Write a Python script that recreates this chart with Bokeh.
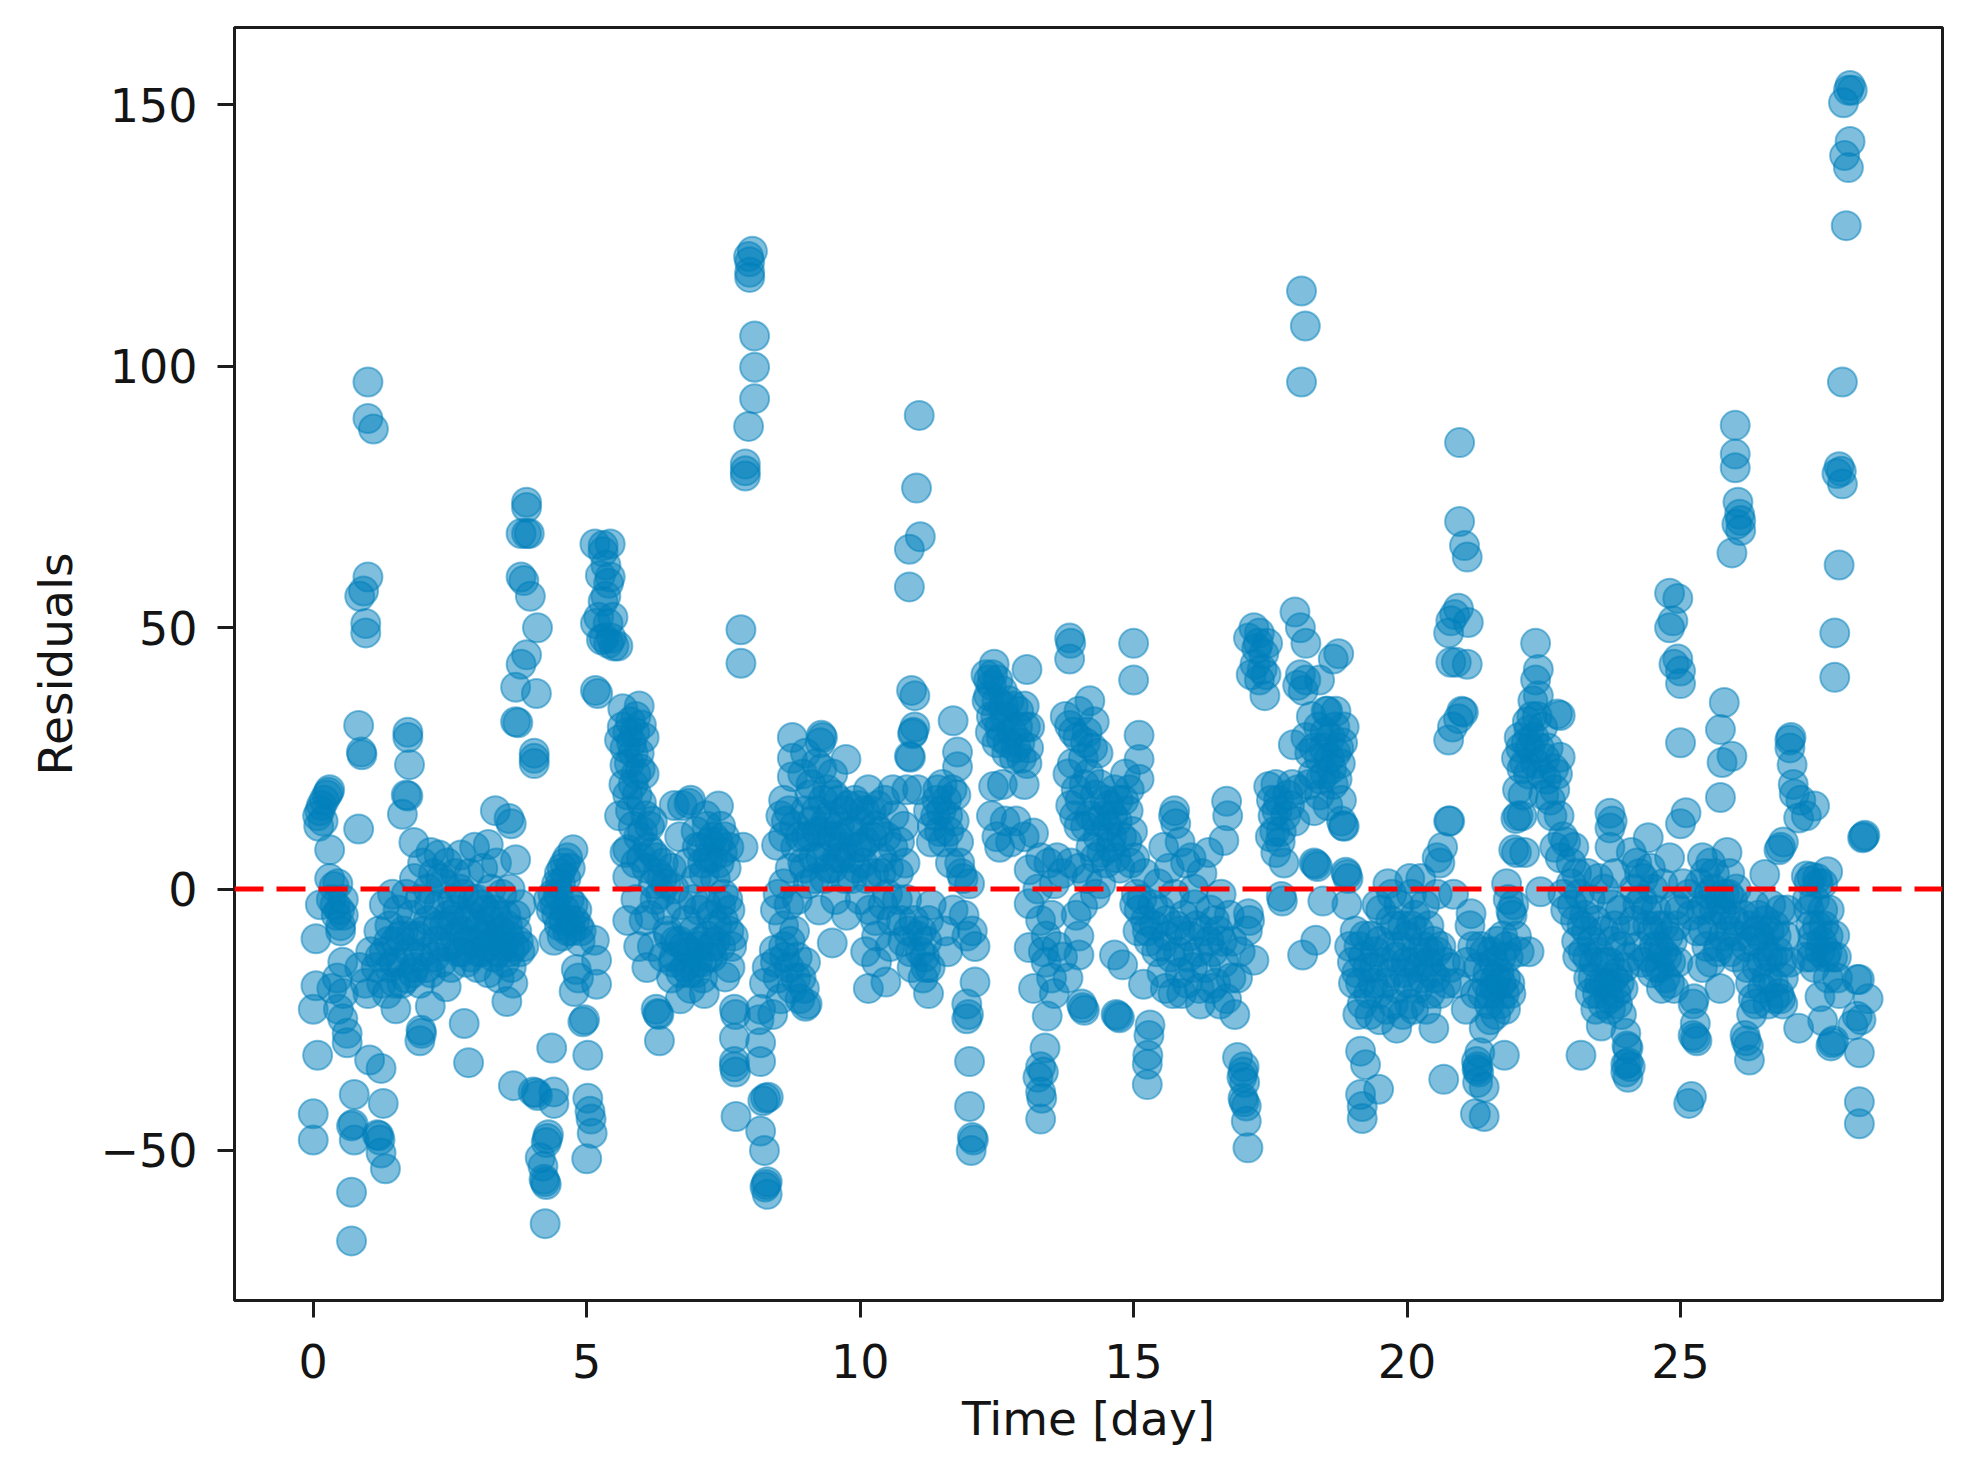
from bokeh.plotting import figure
from bokeh.models import Span, FixedTicker
from bokeh.embed import file_html
from bokeh.resources import INLINE

days_00_02 = [(0.0,-48),(0.0,-43),(0.0,-23),(0.05,-18.5),(0.08,-31.8),(0.05,-9.5),(0.13,-3),(0.1,12),(0.08,14),(0.12,15),(0.15,16),(0.2,17),(0.25,18),(0.3,19),(0.28,18.5),(0.18,13),
(0.3,7.5),(0.3,2),(0.38,0.5),(0.45,1),(0.33,-2),(0.4,-3),(0.48,-4),(0.55,-2),(0.42,-5),(0.5,-7),(0.55,-5),(0.5,-8),(0.54,-14),(0.34,-19),(0.46,-23),(0.54,-24.8),(0.62,-27.6),(0.62,-29.4),(0.44,-17),(0.55,-20),
(0.83,31.3),(0.89,25.7),(0.88,26.2),(0.83,11.5),(1.0,97),(1.0,90),(1.1,88),(1.0,59.7),(0.92,57),(0.85,56),(0.96,50.8),(0.96,49),
(0.75,-39.3),(1.28,-41),(1.24,-34.3),(1.03,-32.7),(0.7,-45.3),(0.73,-45),(0.75,-48),(1.2,-47.2),(1.17,-47),(1.22,-48),(1.24,-50.5),(1.32,-53.5),(0.7,-58),(0.7,-67.3),
(1.73,30),(1.73,29),(1.76,23.8),(1.73,17.8),(1.7,18),(1.63,14.3),(1.84,8.9),(1.51,-22.9),(1.95,-29),(1.98,-27.6),(1.97,-27),
(0.85,-15),(0.95,-18),(1.0,-20),(1.05,-12),(1.15,-15),(1.2,-8),(1.25,-18),(1.3,-12),(1.3,-3),(1.35,-20),(1.4,-15),(1.4,-7),(1.45,-1),(1.5,-10),(1.5,-18),(1.55,-4),(1.6,-14),(1.65,-8),(1.7,-1),(1.7,-17),(1.75,-12),(1.8,-5),(1.85,2),(1.85,-15),(1.9,-9),(1.95,-2),(1.95,-18)]
days_02_04 = [(2.0,5),(2.05,-12),(2.1,0),(2.1,-6),(2.15,7),(2.15,-16),(2.2,3),(2.25,-10),(2.3,-3),(2.3,6.5),(2.35,-14),(2.4,1),(2.4,-7),(2.45,5),(2.5,-11),(2.55,-2),(2.55,-6),(2.6,3),(2.65,-12),(2.7,6.5),(2.7,-8),(2.75,-1),(2.8,-14),(2.85,-5),(2.85,3),(2.9,-10),(2.95,8),(3.0,-2),(3.0,-15),(3.05,-7),(3.1,4),(3.1,-12),(3.15,-4),(3.2,8.5),(3.2,-16),(3.25,0),(3.25,-9),(3.3,-13),(3.35,5),(3.35,-5),(3.4,-17),(3.45,-10),(3.45,-1),(3.5,-14),(3.55,-7),(3.6,0),(3.6,-12),(3.65,-18),(3.7,-5),(3.7,5.6),(3.75,-10),(3.8,-3),(3.85,-11),
(2.43,-18.7),(2.14,-22.4),(2.76,-25.7),(2.84,-33.2),(3.54,-21.5),(3.33,15),(3.58,13.5),(3.62,12.5),(3.74,31.8),(3.66,-37.6),
(3.9,74),(3.9,73),(3.8,68),(3.9,68),(3.95,68),(3.8,59.7),(3.85,59),(3.97,56),(4.1,50),(3.9,44.8),(3.8,43),(3.7,38.6),(4.08,37.4),(3.7,32),(4.04,26),(4.04,25),(4.04,24),(4.07,-39),(4.1,-39.5),(4.02,-38.8),(4.4,-38.8),(4.4,-41),(4.36,-30.4),(4.28,-47.7),(4.3,-47),(4.26,-48.5),(4.15,-51.4),(4.2,-53),(4.24,-56),(4.22,-55.5),(4.26,-56.5),(4.24,-64),
(4.3,-2),(4.35,-4),(4.4,-9.8),(4.38,-1),(4.45,1),(4.5,3),(4.55,4),(4.6,5),(4.65,6),(4.75,7.5),(4.7,4),(4.45,-5),(4.5,-7),(4.6,-4),(4.65,-8),(4.7,-6),(4.75,-3),(4.85,-7),(4.9,-8),(4.55,-9),(4.77,-19.6),(4.81,-15.4),(4.85,-17),(4.93,-25.4),(4.96,-25),(5.02,-31.8),(5.14,-9.8),(5.18,-13.6),(5.18,-18.2),(5.02,-40),(5.06,-42.5),(5.1,-46.7),(5.08,-44),(5.0,-51.6)]
days_05_08 = [(5.15,66),(5.3,65.7),(5.43,66),(5.3,64.5),(5.4,58.5),(5.35,56),(5.43,59.7),(5.16,50.8),(5.39,50.8),(5.27,47.7),(5.5,46.5),(5.45,48),(5.57,46.5),(5.16,38),(5.2,37.4),(5.66,34.5),(5.96,35),(5.8,32),(6.0,31.4),(5.6,28.5),(5.85,26),(5.96,26),(5.7,23.7),(5.85,20),(6.0,16.5),(5.6,14),(6.08,14),(6.2,13),(5.7,7),(5.75,7.5),(5.75,2.3),(5.75,-6),(5.9,33),(5.75,30),(5.9,22),(5.75,18),(5.8,15),(6.05,29),(6.05,22),(5.95,10),
(6.0,6),(6.1,4),(6.2,7),(6.3,3),(6.4,5),(6.45,1),(6.55,4),(6.6,0),(6.15,-5),(6.25,-2),(6.35,-1),(6.45,-4),(5.95,-11),(6.1,-15),(6.2,-11),(6.3,-23.8),(6.27,-23),(6.32,-24),(6.33,-29),(6.4,-13),(6.5,-9),(6.55,-17),(6.6,-13),(6.7,-10),(6.71,-21),(6.8,-15),(6.85,-12),(6.9,-19),(6.95,-8),(7.0,-16),(7.05,-11),(7.1,-14),(7.15,-20),(7.2,-9),(7.3,-13),(7.35,-10),(7.45,-11),(7.53,-16.8),(7.5,-6),(7.45,-3),
(6.6,16),(6.75,16),(6.87,16.4),(6.9,17),(6.7,10),(6.85,5),(7.0,11),(7.0,2),(7.1,8),(7.15,3),(7.2,12),(7.25,9),(7.3,6),(7.41,15.9),(7.35,2),(7.4,9),(7.45,12),(7.5,-1),(7.55,4),(7.6,8),(7.86,8),(7.6,-8),(7.62,-15),(7.65,-11),
(8.03,122),(7.96,121),(7.98,120),(7.98,118),(7.98,117),(8.07,105.8),(8.07,99.8),(8.07,93.8),(7.96,88.5),(7.9,81.3),(7.9,80),(7.9,79),(7.82,49.6),(7.82,43.2),
(7.7,-23),(7.72,-24),(7.7,-28.5),(7.7,-33),(7.7,-34),(7.72,-35),(8.18,-23),(8.15,-25),(8.18,-29.4),(8.18,-33),(7.73,-43.5),(8.27,-40),(8.22,-40.5),(8.32,-39.8),(8.18,-46.3),(8.25,-50),(8.28,-56.5),(8.3,-56),(8.26,-57),(8.3,-58.4)]
days_08_12 = [(8.25,-18),(8.3,-15),(8.4,-24),(8.45,-14),(8.43,-11.7),(8.5,-17),(8.55,-21),(8.6,-11),(8.7,-15),(8.75,-19),(8.85,-13),(8.9,-21),(9.0,-22.4),(9.03,-22),(9.0,-14),(8.45,-4),(8.5,-1),(8.6,-7),(8.6,1),(8.7,-3),(8.8,-8),(8.85,-2),(8.47,8.4),(8.55,14),(8.6,10),(8.6,17),(8.65,13),(8.7,15),(8.76,29),(8.76,25),(8.76,21.5),(8.8,12),(9.29,29.4),(9.31,29),(9.27,28),(9.74,24.8),(9.0,26),(8.95,22),(9.1,20),(9.2,24),(9.3,23),(9.4,19),(9.5,22),(9.6,17),(8.95,5),(9.0,15),(9.05,1),(9.1,10),(9.15,6),(9.2,15),(9.25,-4),(9.3,11),(9.35,2),(9.4,8),(9.45,14),(9.5,4),(9.49,-10.3),(9.55,-2),(9.6,10),(9.65,6),(9.7,15),(9.75,-5),(9.8,11),(9.85,2),(9.9,17),(9.95,8),(10.0,-2),(10.0,13),(10.05,5),(10.1,-12),(10.1,9),(10.15,19),(10.15,-19),(10.2,15),(10.25,3),(10.3,-9),(10.3,-14),(10.35,11),(10.4,6),(10.45,17),(10.47,-17.8),(10.5,-1),(10.55,-11),(10.6,19),(10.6,8),(10.7,3),(10.75,-6),(10.8,12),(10.85,19),(10.85,-2),(10.95,-15),(10.92,25.2),(10.94,38),(11.0,37),(11.0,31),(10.96,29.7),(10.97,30),(10.9,25.4),(11.05,19),(11.05,-9),(11.1,-12),(11.15,-17),(11.25,-20),(11.2,-15),(11.25,-6),(11.25,15),(11.3,9),(11.3,-3),(11.4,17),(11.45,11),(11.5,20),(11.55,-8),(11.6,-12),(11.65,5),(11.7,-4),(11.7,32.2),(11.78,26.2),(11.78,23.4),(11.6,14),(11.75,18),(11.8,9),(11.85,3),(11.9,-5),(11.95,-9),(12.0,1),(12.05,-8),(12.1,-11),(12.1,-17.8),(11.95,-22),(11.95,-24.8),(11.98,-24),(12.0,-33),(12.0,-41.6),(12.07,-48),(12.05,-47.5),(12.03,-50),
(11.08,90.6),(11.03,76.7),(11.1,67.4),(10.9,65),(10.9,57.8)]
days_12_16 = [(12.3,41),(12.35,40),(12.4,39),(12.35,37),(12.45,43),(12.5,36),(12.6,38),(12.65,33),(12.8,35),(12.9,34),(13.0,35),(13.05,42),(12.4,33),(12.5,28),(12.55,31),(12.7,28),(12.85,27),(12.95,25),(13.05,24),(13.1,31),(12.44,19.6),(12.6,20),(12.4,14),(12.5,10),(12.65,13),(12.55,8),(12.75,9),(12.85,13),(13.0,20),(13.17,10.7),(13.0,10),(13.09,3.7),(13.09,-2.8),(13.09,-11.2),(13.17,-19),(13.25,0),(13.3,6),(13.45,5),(13.6,6),(13.3,-6),(13.4,-9),(13.42,-24.3),(13.38,-30.4),(13.35,-12),(13.5,-17),(13.4,-14),(13.5,-5),(13.55,-20),(13.3,-34),(13.35,-35),(13.25,-36),(13.3,-38.8),(13.32,-40),(13.3,-44),(13.6,-11),(13.7,-13),(13.8,-17),(13.95,-5),(14.0,-9),(14.07,-3.3),(14.0,-12.6),(14.07,-22.7),(14.05,-22),(14.1,-23.2),(14.71,-24.3),(14.68,-24),(14.74,-24.6),(14.65,-12.6),(14.8,-14.5),(15.18,-18.2),(15.3,-26),(15.28,-28),(15.26,-31.8),(15.25,-33.5),(15.25,-37.4),
(13.83,48),(13.85,47),(13.83,44),(13.75,33),(13.83,31.3),(13.9,30),(14.0,34),(14.2,36),(14.15,30),(14.25,27),(14.35,26),(13.8,22),(13.85,16),(13.95,19),(14.0,12),(14.1,20),(14.2,14),(14.3,18),(14.35,10),(14.45,14),(14.5,5),(14.55,16),(14.6,10),(14.65,19),(14.7,13),(14.75,4),(14.85,22),(15.1,29.4),(15.1,24.8),(15.0,47),(15.0,40),(14.4,1),(14.3,6),(15.1,21),(14.9,15),
(14.95,5),(15.05,-1),(15.1,-4),(15.2,3),(15.25,-8),(15.35,-3),(15.45,1),(15.5,-11),(15.6,-6),(15.75,15),(15.73,14),(15.77,12.5),(15.65,4),(15.75,-1),(15.85,-8),(15.85,-16),(15.95,5),(16.0,-13),(16.1,0),(16.15,-7),(16.2,-19),(16.25,3)]
days_16_20 = [(16.37,7),(16.65,9.3),(16.7,16.8),(16.72,14),(16.4,-4),(16.45,-12),(16.5,-18),(16.55,-8),(16.6,-1),(16.65,-14),(16.7,-21),(16.75,-5),(16.8,-10),(16.85,-24),(16.9,-17),(17.1,-4.7),(17.12,-6),(17.08,-8),(17.2,-13.6),(16.95,-12),(16.9,-32.2),(17.0,-35),(17.02,-34),(16.98,-36),(17.03,-37),(17.02,-40.7),(17.0,-40),(17.06,-41.5),(17.06,-44.4),(17.09,-49.5),
(17.1,48),(17.2,50),(17.3,49),(17.25,46),(17.15,41),(17.3,40),(17.4,37),(17.45,47),(17.35,42),(17.6,20),(17.47,19.6),(17.55,14),(17.65,17),(17.5,10),(17.6,7),(17.7,-1.4),(17.72,-2.3),(17.7,11),(17.75,5),(17.9,20),(17.92,27.6),(17.85,16),(17.95,13),(18.0,19),(18.07,114.4),(18.14,107.7),(18.07,97),(17.95,53),(18.05,50),(18.15,47),(18.05,41),(18.15,40),(18.1,38),(18.0,39),(18.33,4.7),(18.3,5),(18.36,4.3),(18.33,-9.8),(18.09,-12.6),(18.46,-2.3),(18.25,33),(18.15,29),(18.3,27),(18.4,25),(18.5,30),(18.4,40),(18.55,34),(18.6,29),(18.7,26),(18.75,45),(18.65,44),(18.5,22),(18.4,18),(18.55,16),(18.65,20),(18.75,27),(18.85,31),(18.83,12.1),(18.8,13),(18.85,12),(18.8,17),(18.3,15),(18.2,20),(18.7,34),
(18.9,2.8),(18.88,3.2),(18.92,2),(18.9,-3),(18.95,-11),(19.0,-14),(19.05,-8),(19.15,-18),(19.2,-13),(19.1,-24),(19.3,-20),(19.35,-9),(19.15,-31),(19.24,-33.6),(19.48,-38.3),(19.15,-39.3),(19.18,-41.6),(19.18,-43.9),(19.4,-15),(19.45,-3),(19.5,-25),(19.5,-10),(19.6,-18),(19.65,1),(19.7,-6),(19.75,-22),(19.8,-13),(19.81,-26.6),(19.85,-3),(19.95,-16),(20.0,-9),(20.05,2),(20.05,-22)]
days_20_24 = [(20.1,-14),(20.15,-5),(20.2,-19),(20.25,2),(20.3,-11),(20.35,-23),(20.4,-7),(20.45,-16),(20.49,-26.6),(20.55,-12),(20.55,-1),(20.6,-20),(20.7,-14),(20.67,-36.4),(20.55,6),(20.6,5),(20.65,8),(20.76,13),(20.85,-1),(20.8,-15),(20.9,-18),
(20.96,85.4),(20.96,70.3),(21.05,65.7),(21.1,63.5),(20.94,53.7),(20.87,52.5),(20.8,51.3),(21.12,51),(20.76,49),(20.8,43.4),(20.9,43.4),(21.1,43),(21.03,33.8),(21.0,34),(20.94,32.6),(20.83,31),(20.76,28.5),(20.78,13),
(21.17,-4.7),(21.15,-7),(21.08,-23),(21.1,-14),(21.2,-11),(21.3,-15),(21.25,-20),(21.35,-11),(21.29,-34),(21.27,-33),(21.31,-35),(21.28,-34.5),(21.29,-37),(21.41,-37.9),(21.25,-43),(21.41,-43.5),(21.33,-31.3),(21.41,-26.6),(21.45,-18),(21.5,-22),(21.55,-12),(21.6,-19),(21.65,-10),(21.7,-22),(21.75,-9),(21.78,-31.8),(21.8,-17),(21.85,-13),(21.9,-20),(22.0,-9),(22.05,-12),(22.23,-12),(21.82,1),(21.85,-2),(21.9,-4.2),(21.92,-5),(21.95,-3),(21.99,13.5),(22.03,14),(21.95,7.5),(22.0,7),(22.15,7),(22.1,14),(22.44,-0.5),
(22.23,30.4),(22.0,25),(22.1,23),(22.05,29),(22.15,24),(22.2,32),(22.3,36),(22.35,40),(22.4,37),(22.35,47),(22.4,42),(22.25,27),(22.35,24),(22.45,22),(22.5,18),(22.55,21),(22.8,25.2),(22.75,22),(22.8,33.2),(22.75,33.5),(22.65,14),(22.7,19),(22.85,10),(22.7,8),(22.8,6),(22.9,9),(23.0,5),(23.0,1),(22.85,-1),(23.05,8),(22.9,-4),(23.1,3),(23.15,-1),(23.2,-7),(23.1,-10),(23.18,-31.8),(23.25,-5),(23.35,-2),(23.3,-13),(23.4,-17),(23.35,-20),(23.5,-12),(23.55,-26.2),(23.45,-23),(23.6,-18),(23.7,-21),(23.71,14.5),(23.75,13),(23.71,11.7),(23.71,8),(23.75,-3),(23.8,-7),(23.7,-14),(23.85,-16),(23.85,-22),(23.95,-19),(24.0,-27.6),(24.04,-30.4),(24.04,-33.2),(24.0,-33.5),(24.08,-34),(24.04,-36),(24.0,-35),(24.02,-30)]
days_24_26 = [(24.1,7),(24.2,5),(24.15,0),(24.25,3),(24.41,9.8),(24.3,-2),(24.4,-7),(24.45,4),(24.5,0),(24.55,-4),(24.6,-11),(24.55,-15),(24.65,-19),(24.7,-7),(24.75,-13),(24.8,6),(24.8,-18),(24.85,-10),(24.9,-3),(24.95,-14),(24.8,56.6),(24.95,55.6),(24.86,51.3),(24.8,50),(24.95,44),(24.88,43),(25.0,41.7),(25.0,39.3),(25.0,28),(25.1,14.6),(25.0,12.5),
(25.05,1),(25.15,-1),(25.2,-5),(25.3,-8),(25.23,-22),(25.25,-21),(25.27,-25.7),(25.27,-28.5),(25.23,-28),(25.3,-29),(25.15,-41),(25.2,-39.7),(25.4,6),(25.45,3),(25.55,5),(25.35,1),(25.45,-3),(25.6,0),(25.4,-15),(25.55,-14),(25.7,-11),(25.72,-19),(25.75,-4),(25.8,-1),(25.85,7),(25.9,3),(25.95,-2),(25.9,-8),(26.0,-13),(26.05,-9),
(26.0,88.7),(26.0,83.2),(26.0,80.6),(26.05,74),(26.08,71.7),(26.1,70.5),(26.03,69.8),(26.1,68.6),(25.94,64.3),(25.8,35.7),(25.73,30.5),(25.94,25.4),(25.76,24.2),(25.73,17.5)]
days_26_28 = [(26.15,-5),(26.2,-11),(26.25,-7),(26.33,-21),(26.3,-24),(26.2,-29),(26.18,-28),(26.24,-30),(26.26,-32.7),(26.35,-3),(26.4,-15),(26.45,-9),(26.54,2.8),(26.55,-6),(26.6,-13),(26.7,-18),(26.75,-9),(26.83,-21),(26.8,-20),(26.87,-22),(26.83,8),(26.8,7.5),(26.88,9),(26.85,-14),(26.95,-4),(27.0,-14),(27.16,-26.6),(27.0,28.5),(27.02,29),(27.0,27),(27.04,23.8),(27.08,18.2),(27.06,20),(27.45,15.9),(27.16,13.6),(27.2,17),(27.3,14),
(27.3,2.5),(27.4,2.3),(27.35,1.5),(27.5,2),(27.69,3.3),(27.35,-4),(27.5,-7),(27.6,-4),(27.55,-12),(27.4,-13),(27.55,-20.6),(27.6,-25.2),(27.65,-13),(27.7,-9),(27.82,-8.9),(27.77,-29.4),(27.75,-30),(27.8,-29),(27.87,-17),(27.9,-20)]
days_28_end = [(28.1,153.7),(28.07,152.8),(28.14,152.8),(27.98,150.4),(28.1,143),(28.0,140.3),(28.07,138),(28.03,126.9),(27.96,97),(27.9,80.8),(27.94,79.9),(27.86,79.5),(27.96,77.5),(27.9,62),(27.82,49),(27.82,40.5),
(28.35,10),(28.33,9.8),(28.37,10.3),(28.23,-17.3),(28.27,-17.3),(28.43,-21),(28.23,-24.3),(28.3,-25),(28.15,-26),(28.27,-31.3),(28.27,-40.7),(28.27,-44.9)]
dense_early = [(1.22,-13),(1.38,-10),(1.48,-14),(1.58,-9),(1.62,-18),(1.78,-9),(1.82,-16),(1.92,-13),(2.02,-8),(2.08,-15),(2.12,-3),(2.22,-13),(2.28,-7),(2.33,2),(2.38,-11),(2.48,-5),(2.52,-15),(2.58,-9),(2.62,-4),(2.68,0),(2.72,-12),(2.78,-6),(2.82,-10),(2.88,-13),(2.92,-2),(2.98,-8),(3.02,-12),(3.08,-3),(3.12,-9),(3.18,-11),(3.22,-6),(3.28,-10),(3.32,-4),(3.38,-12),(3.42,-8),(3.48,-11),(3.52,-5),(3.58,-9),(3.62,-15),(3.68,-11),(3.72,-8),(3.78,-12),
(4.42,-3),(4.48,-1),(4.52,1),(4.58,-6),(4.62,2),(4.68,-2),(4.72,-8),(4.78,-6),(4.82,-4),(4.88,-10),
(5.25,60),(5.3,55),(5.22,52),(5.35,62),(5.32,48),(5.48,52),(5.4,47),(5.65,31),(5.7,27),(5.78,24),(5.88,30),(5.92,18),(5.68,20),(5.82,28),(5.98,23),
(6.12,8),(6.22,1),(6.28,6),(6.38,2),(6.48,-8),(6.58,-14),(6.62,-10),(6.72,-16),(6.78,-11),(6.88,-16),(6.92,-12),(7.02,-14),(7.08,-10),(7.12,-17),(7.22,-13),(7.28,-11),(7.02,8),(7.12,5),(7.22,6),(7.32,10),(7.42,5),(7.48,7),(7.18,14),(7.52,10),(7.62,-4),(7.68,-9),
(5.85,12),(5.9,5),(6.02,11),(6.15,12),(5.9,-2),(6.05,-6),(6.72,-3),(6.82,-6),(6.95,-2),(7.05,-4),(7.18,-3),(7.28,-5),(7.38,-7),(7.58,-2)]
dense_middle = [(8.62,-13),(8.72,-10),(8.82,-17),(8.92,-17),(8.98,-19),(8.72,4),(8.82,8),(8.9,10),(8.98,4),(9.02,10),(9.08,18),(9.12,13),(9.18,2),(9.22,11),(9.28,6),(9.32,17),(9.38,13),(9.42,4),(9.48,10),(9.52,18),(9.58,6),(9.62,12),(9.68,8),(9.72,2),(9.78,16),(9.82,6),(9.88,11),(9.92,4),(9.98,16),(10.02,8),(10.08,15),(10.12,2),(10.18,-4),(10.22,10),(10.28,-6),(10.32,16),(10.38,3),(10.42,-3),(10.48,10),(10.52,4),(10.58,-6),(10.62,14),(10.68,-2),(10.72,9),(10.78,-10),(10.82,5),(10.88,-8),(10.92,-12),(10.98,-6),(10.28,12),
(11.12,-8),(11.18,-13),(11.22,-10),(11.28,-15),(11.32,12),(11.38,14),(11.42,19),(11.48,15),(11.52,9),(11.58,17),(11.62,11),(11.68,19),(11.72,13),(11.82,5),(11.88,2),
(12.32,36),(12.42,41),(12.48,33),(12.52,40),(12.58,29),(12.62,35),(12.72,36),(12.78,30),(12.82,25),(12.88,31),(12.92,28),(13.02,31),(13.08,27),(12.38,30),(12.68,26),
(13.88,24),(13.92,14),(13.98,29),(14.02,17),(14.08,25),(14.12,12),(14.18,22),(14.22,8),(14.28,32),(14.32,13),(14.38,20),(14.42,7),(14.48,17),(14.52,12),(14.58,8),(14.62,14),(14.68,6),(14.72,17),(14.78,10),(14.82,17),(14.88,9),(14.92,19),(14.98,11),(15.02,6),(14.12,28),
(15.02,-3),(15.08,-8),(15.15,-2),(15.22,-6),(15.28,-10),(15.38,-7),(15.42,-12),(15.48,-4),(15.52,-16),(15.58,-19),(15.62,-9),(15.68,-13),(15.72,-20),(15.78,-7),(15.82,-12),(15.88,-20),(15.92,-5),(15.98,-18),(16.02,-9),(16.08,-15),(16.12,-3),(16.18,-12),(16.22,-22),(16.28,-8),(16.32,-15),(16.38,-10),(16.42,-19),(16.48,-6),(16.58,-22),(16.62,-10),(16.78,-17),
(13.55,1),(13.7,3),(13.85,5),(14.0,4),(14.15,2),(14.3,-1),(15.55,8),(15.85,9),(16.05,6)]
dense_late = [(17.22,43),(17.28,47),(17.38,45),(17.42,41),(17.52,17),(17.58,11),(17.62,15),(17.68,9),(17.78,14),(17.82,18),(18.22,26),(18.28,22),(18.38,31),(18.42,21),(18.48,27),(18.52,34),(18.58,25),(18.62,23),(18.68,31),(18.72,21),(18.78,24),(18.82,28),
(19.02,-18),(19.08,-16),(19.12,-11),(19.18,-22),(19.22,-9),(19.28,-15),(19.32,-24),(19.38,-18),(19.42,-12),(19.48,-20),(19.52,-4),(19.58,-14),(19.62,-23),(19.68,-11),(19.72,-16),(19.78,-7),(19.82,-19),(19.88,-11),(19.92,-24),(19.98,-14),(20.02,-18),(20.08,-7),(20.12,-23),(20.18,-12),(20.22,-8),(20.28,-17),(20.32,-3),(20.38,-14),(20.42,-20),(20.48,-10),(20.52,-17),(20.62,-11),(20.72,-18),(20.08,-1),(19.92,-7),(20.22,-15),(20.42,-12),(19.72,-1),
(21.42,-12),(21.48,-16),(21.52,-25),(21.58,-14),(21.62,-24),(21.68,-16),(21.72,-13),(21.78,-20),(21.82,-11),(21.88,-18),(21.38,-20),(21.62,-17),(21.52,-20),(21.72,-18),(21.8,-23),
(22.02,19),(22.08,27),(22.12,18),(22.18,28),(22.22,22),(22.28,33),(22.32,29),(22.38,33),(22.42,27),(22.48,31),(22.52,25),(22.58,27),(22.62,17),(22.68,23),(22.78,14),
(23.02,-3),(23.08,-6),(23.12,-13),(23.22,-12),(23.28,-8),(23.32,-17),(23.38,-10),(23.42,-14),(23.48,-20),(23.52,-18),(23.58,-22),(23.62,-14),(23.68,-18),(23.72,-23),(23.78,-17),(23.82,-20),(23.88,-18),(23.92,-24),(23.98,-15),(23.5,2),(23.3,3),(23.6,0),(23.8,3),(23.9,-4),(24.0,-8),
(23.45,-6),(23.6,-8),(23.75,-10),(23.9,-11),(24.05,-13),(24.15,-6),(24.22,-11),(24.3,-14),(24.4,-13),(24.48,-16),
(24.22,-3),(24.32,2),(24.38,-4),(24.48,-8),(24.52,-11),(24.58,-7),(24.62,-15),(24.68,-12),(24.72,-17),(24.78,-9),(24.82,-14),(24.88,-19),(24.92,-7),(24.98,-4),(24.68,1),
(25.38,-4),(25.42,-8),(25.48,-11),(25.52,-1),(25.58,-7),(25.62,-4),(25.68,-12),(25.72,-2),(25.78,-9),(25.82,-5),(25.88,-1),(25.92,-12),(25.98,-6),(26.02,0),(25.62,3),
(26.22,-15),(26.28,-18),(26.32,-10),(26.38,-22),(26.42,-5),(26.48,-14),(26.52,-11),(26.58,-17),(26.62,-8),(26.68,-13),(26.72,-7),(26.78,-12),(26.82,-4),(26.88,-17),(26.92,-9),(26.38,-8),(26.5,-19),(26.6,-22),(26.72,-21),(26.65,-3),
(27.32,-2),(27.38,-7),(27.42,-9),(27.45,-2),(27.52,1),(27.58,-10),(27.62,-7),(27.68,-12),(27.72,-4),(27.4,-11),(27.78,-13),(27.6,1),(27.3,-13),(27.45,-15),(27.7,-17),(27.85,-13)]

segments = [days_00_02, days_02_04, days_05_08, days_08_12, days_12_16, days_16_20, days_20_24, days_24_26, days_26_28, days_28_end, dense_early, dense_middle, dense_late]
time_day = [pt[0] for seg in segments for pt in seg]
residuals = [pt[1] for seg in segments for pt in seg]

x_ticks = [0, 5, 10, 15, 20, 25]
y_ticks = [-50, 0, 50, 100, 150]
x_title = "Time [day]"
y_title = "Residuals"

FONT = "DejaVu Sans"
INK = "#141414"
LINE = "#1c1c1c"
p = figure(width=1951, height=1454, output_backend="svg", toolbar_location=None,
           x_range=(-1.44, 29.79), y_range=(-78.7, 164.8),
           min_border_left=234, min_border_right=9, min_border_top=27, min_border_bottom=154)
p.grid.visible = False
p.background_fill_color = "white"
p.outline_line_color = LINE
p.outline_line_width = 3
p.scatter(time_day, residuals, size=29, marker="circle", fill_color="#0080BB", fill_alpha=0.5,
          line_color="#0080BB", line_alpha=0.5, line_width=2)
p.add_layout(Span(location=0, dimension="width", line_color="#ff0000", line_width=5, line_dash="29 13"))

for ax in (p.xaxis[0], p.yaxis[0]):
    ax.major_label_text_font = FONT
    ax.major_label_text_font_size = "46px"
    ax.major_label_text_color = INK
    ax.axis_label_text_font = FONT
    ax.axis_label_text_font_size = "47px"
    ax.axis_label_text_font_style = "normal"
    ax.axis_label_text_color = INK
    ax.axis_line_color = LINE
    ax.axis_line_width = 3
    ax.major_tick_line_color = LINE
    ax.major_tick_line_width = 3
    ax.major_tick_in = 0
    ax.major_tick_out = 17
    ax.minor_tick_line_color = None
p.xaxis[0].major_label_standoff = 26
p.yaxis[0].major_label_standoff = 20
p.xaxis[0].ticker = FixedTicker(ticks=x_ticks)
p.yaxis[0].ticker = FixedTicker(ticks=y_ticks)
p.xaxis[0].axis_label = x_title
p.yaxis[0].axis_label = y_title
p.xaxis[0].axis_label_standoff = 10
p.yaxis[0].axis_label_standoff = 14
p.yaxis[0].major_label_orientation = "horizontal"

open("out.html", "w").write(file_html(p, INLINE))
